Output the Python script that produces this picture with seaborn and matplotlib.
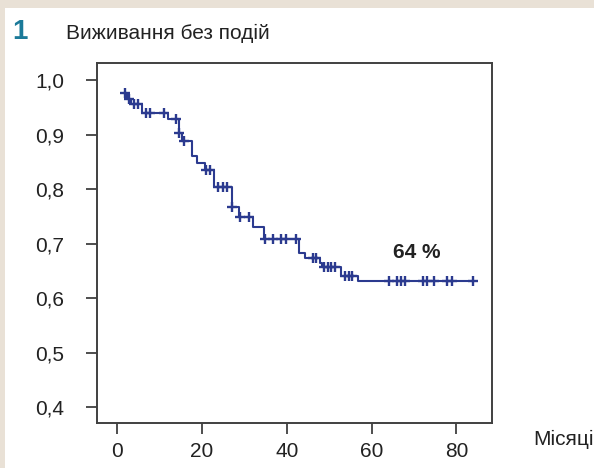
import numpy as np
import pandas as pd
import matplotlib
matplotlib.use("Agg")
import matplotlib.pyplot as plt
import seaborn as sns
from matplotlib.patches import Rectangle

# ---- data ----
step_times = [1.8, 2.4, 3.4, 5.8, 12.0, 14.6, 15.2, 17.7, 18.9, 20.7, 22.8,
              27.0, 28.8, 32.0, 34.7, 42.9, 44.4, 47.9, 48.3, 52.9, 56.7]
step_surv = [0.977, 0.965, 0.956, 0.941, 0.929, 0.903, 0.889, 0.861, 0.848,
             0.835, 0.804, 0.767, 0.749, 0.730, 0.708, 0.683, 0.674, 0.664,
             0.658, 0.641, 0.631]
end_time = 84.0
censor_times = [1.9, 2.9, 4.0, 5.0, 6.9, 7.7, 11.0, 13.9, 14.7, 15.8, 20.9,
                21.9, 23.9, 24.9, 26.0, 27.1, 28.9, 31.2, 34.9, 36.7, 38.6,
                39.8, 42.1, 46.1, 46.9, 48.9, 49.7, 50.5, 51.3, 53.7, 54.6,
                55.5, 64.2, 65.9, 66.9, 67.9, 72.1, 73.0, 74.8, 77.9, 78.9, 84.0]
x_ticks = [0, 20, 40, 60, 80]
y_ticks = [0.4, 0.5, 0.6, 0.7, 0.8, 0.9, 1.0]
y_tick_labels = ["0,4", "0,5", "0,6", "0,7", "0,8", "0,9", "1,0"]
final_label = "64 %"
title = "Виживання без подій"
panel_no = "1"
x_label = "Місяці"

# ---- build tables ----
curve = pd.DataFrame({"t": step_times + [end_time],
                      "s": step_surv + [step_surv[-1]]})
idx = np.searchsorted(step_times, censor_times, side="right") - 1
cens = pd.DataFrame({"t": censor_times,
                     "s": np.array(step_surv)[np.clip(idx, 0, None)]})

sns.set_style("white")
plt.rcParams["font.family"] = ["Liberation Sans", "DejaVu Sans"]

fig = plt.figure(figsize=(5.94, 4.68), dpi=100)
fig.patch.set_facecolor("white")
# beige frame strips (top and left)
fig.patches.append(Rectangle((0, 1 - 8 / 468), 1, 8 / 468, transform=fig.transFigure,
                             facecolor="#e9e1d6", edgecolor="none", zorder=0))
fig.patches.append(Rectangle((0, 0), 5 / 594, 1, transform=fig.transFigure,
                             facecolor="#e9e1d6", edgecolor="none", zorder=0))

ax = fig.add_axes([96.7 / 594, 1 - 423 / 468, (492 - 96.7) / 594, (423 - 63) / 468])

col = "#2b3a8f"
sns.lineplot(data=curve, x="t", y="s", ax=ax, drawstyle="steps-post",
             estimator=None, sort=False, color=col, linewidth=1.5)
sns.scatterplot(data=cens, x="t", y="s", ax=ax, marker="+", s=62,
                color=col, linewidth=1.7, zorder=3)

ax.set_xlim(-4.8, 88.4)
ax.set_ylim(0.371, 1.032)
ax.set_xticks(x_ticks)
ax.set_xticklabels([str(v) for v in x_ticks])
ax.set_yticks(y_ticks)
ax.set_yticklabels(y_tick_labels)
ax.set_xlabel("")
ax.set_ylabel("")

for sp in ax.spines.values():
    sp.set_visible(True)
    sp.set_color("#404040")
    sp.set_linewidth(1.4)
ax.tick_params(axis="both", which="major", direction="out", length=7.6,
               width=1.3, color="#404040", labelsize=15, labelcolor="#222222")
ax.tick_params(axis="y", pad=16, left=True)
ax.tick_params(axis="x", pad=6, bottom=True)

ax.text(70.6, 0.684, final_label, ha="center", va="center",
        fontsize=15, fontweight="bold", color="#222222")

fig.text(12 / 594, 1 - 32 / 468, panel_no, ha="left", va="center",
         fontsize=20, fontweight="bold", color="#1b7a99")
fig.text(66 / 594, 1 - 33 / 468, title, ha="left", va="center",
         fontsize=15, color="#222222")
fig.text(533 / 594, 1 - 439 / 468, x_label, ha="left", va="center",
         fontsize=15, color="#222222")

fig.savefig("out.png", dpi=100, facecolor="white")
